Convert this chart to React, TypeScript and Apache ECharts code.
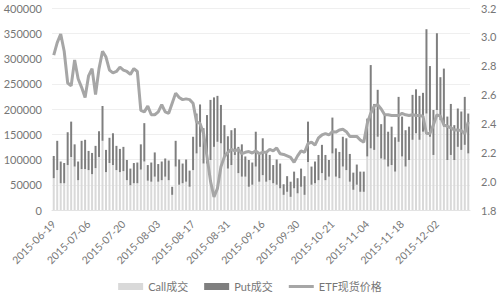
import React, { useEffect, useRef } from "react";
import * as echarts from "echarts";

const dates: string[] = [
  "2015-06-19","2015-06-23","2015-06-24","2015-06-25","2015-06-26","2015-06-29","2015-06-30",
  "2015-07-01","2015-07-02","2015-07-03","2015-07-06","2015-07-07","2015-07-08","2015-07-09","2015-07-10",
  "2015-07-13","2015-07-14","2015-07-15","2015-07-16","2015-07-17","2015-07-20","2015-07-21","2015-07-22",
  "2015-07-23","2015-07-24","2015-07-27","2015-07-28","2015-07-29","2015-07-30","2015-07-31",
  "2015-08-03","2015-08-04","2015-08-05","2015-08-06","2015-08-07","2015-08-10","2015-08-11","2015-08-12",
  "2015-08-13","2015-08-14","2015-08-17","2015-08-18","2015-08-19","2015-08-20","2015-08-21","2015-08-24",
  "2015-08-25","2015-08-26","2015-08-27","2015-08-28","2015-08-31",
  "2015-09-01","2015-09-02","2015-09-07","2015-09-08","2015-09-09","2015-09-10","2015-09-11","2015-09-14",
  "2015-09-15","2015-09-16","2015-09-17","2015-09-18","2015-09-21","2015-09-22","2015-09-23","2015-09-24",
  "2015-09-25","2015-09-28","2015-09-29","2015-09-30",
  "2015-10-08","2015-10-09","2015-10-12","2015-10-13","2015-10-14","2015-10-15","2015-10-16","2015-10-19",
  "2015-10-20","2015-10-21","2015-10-22","2015-10-23","2015-10-26","2015-10-27","2015-10-28","2015-10-29","2015-10-30",
  "2015-11-02","2015-11-03","2015-11-04","2015-11-05","2015-11-06","2015-11-09","2015-11-10","2015-11-11",
  "2015-11-12","2015-11-13","2015-11-16","2015-11-17","2015-11-18","2015-11-19","2015-11-20","2015-11-23",
  "2015-11-24","2015-11-25","2015-11-26","2015-11-27","2015-11-30",
  "2015-12-01","2015-12-02","2015-12-03","2015-12-04","2015-12-07","2015-12-08","2015-12-09","2015-12-10",
  "2015-12-11","2015-12-14","2015-12-15"
];

const callVolume: number[] = [
  63000, 79000, 53000, 53000, 89000, 105000, 86000, 59000, 81000, 81000, 79000, 71000, 83000, 105000, 137000, 75000, 93000, 89000, 79000, 75000, 77000, 59000, 49000, 53000,
  53000, 80000, 96000, 58000, 56000, 66000, 56000, 59000, 66000, 59000, 30000, 86000, 50000, 53000, 56000, 46000, 79000, 112000, 125000, 92000, 92000, 99000, 125000, 135000,
  132000, 106000, 82000, 89000, 109000, 73000, 66000, 66000, 46000, 50000, 86000, 56000, 69000, 56000, 59000, 53000, 50000, 43000, 30000, 36000, 26000, 43000, 33000, 46000,
  30000, 95000, 50000, 53000, 59000, 73000, 59000, 66000, 112000, 66000, 63000, 86000, 79000, 56000, 40000, 50000, 36000, 36000, 106000, 122000, 119000, 145000, 102000, 100000,
  86000, 89000, 76000, 135000, 106000, 86000, 99000, 139000, 152000, 139000, 155000, 191000, 145000, 109000, 198000, 178000, 165000, 99000, 109000, 99000, 125000, 119000, 129000, 112000
];

const putVolume: number[] = [
  44000, 58000, 43000, 40000, 65000, 70000, 44000, 37000, 56000, 58000, 38000, 42000, 44000, 51000, 69000, 44000, 50000, 63000, 48000, 46000, 48000, 40000, 33000, 40000,
  41000, 50000, 76000, 31000, 38000, 48000, 35000, 37000, 36000, 39000, 16000, 51000, 50000, 39000, 44000, 32000, 66000, 79000, 84000, 70000, 96000, 119000, 98000, 91000,
  76000, 62000, 64000, 69000, 53000, 52000, 64000, 40000, 53000, 44000, 69000, 56000, 73000, 59000, 50000, 36000, 50000, 49000, 21000, 31000, 30000, 33000, 30000, 36000,
  37000, 80000, 36000, 43000, 50000, 56000, 50000, 33000, 71000, 56000, 52000, 59000, 63000, 55000, 34000, 40000, 40000, 40000, 75000, 165000, 91000, 93000, 68000, 88000,
  69000, 76000, 68000, 89000, 79000, 72000, 66000, 89000, 87000, 87000, 77000, 167000, 140000, 89000, 152000, 85000, 115000, 86000, 101000, 69000, 76000, 76000, 95000, 79000
];

const etfPrice: number[] = [
  2.874, 2.96, 3.02, 2.90, 2.68, 2.66, 2.84, 2.71, 2.65, 2.58,
  2.73, 2.78, 2.60, 2.78, 2.90, 2.86, 2.77, 2.75, 2.76, 2.79,
  2.77, 2.76, 2.74, 2.78, 2.76, 2.49, 2.48, 2.52, 2.46, 2.46,
  2.48, 2.53, 2.48, 2.47, 2.54, 2.61, 2.58, 2.565, 2.57, 2.565,
  2.54, 2.41, 2.40, 2.33, 2.17, 2.00, 1.89, 1.95, 2.10, 2.17,
  2.20, 2.22, 2.21, 2.22, 2.19, 2.20, 2.205, 2.195, 2.21, 2.19,
  2.20, 2.20, 2.22, 2.21, 2.23, 2.19, 2.185, 2.175, 2.165, 2.13,
  2.175, 2.21, 2.20, 2.26, 2.27, 2.25, 2.30, 2.32, 2.33, 2.32,
  2.343, 2.34, 2.354, 2.36, 2.343, 2.31, 2.31, 2.31, 2.285, 2.27,
  2.40, 2.47, 2.52, 2.53, 2.50, 2.46, 2.46, 2.455, 2.455, 2.455,
  2.47, 2.46, 2.455, 2.46, 2.455, 2.455, 2.45, 2.33, 2.33, 2.39,
  2.46, 2.45, 2.39, 2.38, 2.37, 2.354, 2.354, 2.35, 2.33, 2.41
];

const seriesNames = ["Call成交", "Put成交", "ETF现货价格"];

export default function App() {
  const ref = useRef<HTMLDivElement>(null);
  useEffect(() => {
    if (!ref.current) return;
    const chart = echarts.init(ref.current, undefined, { renderer: "svg" });
    const font = "Lato, 'Noto Sans CJK SC', sans-serif";
    const textColor = "#767676";
    chart.setOption({
      animation: false,
      textStyle: { fontFamily: font },
      grid: { left: 52, right: 30, top: 8, bottom: 88, containLabel: false },
      legend: {
        bottom: 1,
        left: "center",
        itemWidth: 25,
        itemHeight: 7,
        itemGap: 16,
        textStyle: { color: textColor, fontSize: 11, fontFamily: font },
        data: [
          { name: seriesNames[0], icon: "rect" },
          { name: seriesNames[1], icon: "rect" },
          { name: seriesNames[2], icon: "path://M0,0H25V3H0Z" },
        ],
      },
      xAxis: {
        type: "category",
        data: dates,
        boundaryGap: true,
        axisLine: { lineStyle: { color: "#e3e3e3" } },
        axisTick: { show: false },
        axisLabel: {
          interval: 9,
          rotate: 45,
          color: textColor,
          fontSize: 10.5,
          margin: 12,
        },
      },
      yAxis: [
        {
          type: "value",
          min: 0,
          max: 400000,
          interval: 50000,
          axisLine: { show: false },
          axisTick: { show: false },
          splitLine: { lineStyle: { color: "#efefef" } },
          axisLabel: {
            color: textColor,
            fontSize: 11,
            margin: 10,
            formatter: (v: number) => String(v),
          },
        },
        {
          type: "value",
          min: 1.8,
          max: 3.2,
          interval: 0.2,
          axisLine: { show: false },
          axisTick: { show: false },
          splitLine: { show: false },
          axisLabel: {
            color: textColor,
            fontSize: 11,
            margin: 11,
            formatter: (v: number) => v.toFixed(1),
          },
        },
      ],
      series: [
        {
          name: seriesNames[0],
          type: "bar",
          stack: "vol",
          data: callVolume,
          barWidth: 2,
          itemStyle: { color: "#d9d9d9" },
        },
        {
          name: seriesNames[1],
          type: "bar",
          stack: "vol",
          data: putVolume,
          barWidth: 2,
          itemStyle: { color: "#7f7f7f" },
        },
        {
          name: seriesNames[2],
          type: "line",
          yAxisIndex: 1,
          data: etfPrice,
          symbol: "none",
          lineStyle: { color: "#a6a6a6", width: 3 },
          itemStyle: { color: "#a6a6a6" },
        },
      ],
    });
    return () => chart.dispose();
  }, []);
  return (
    <div
      ref={ref}
      style={{ position: "absolute", left: 0, top: 0, width: 500, height: 298 }}
    />
  );
}
